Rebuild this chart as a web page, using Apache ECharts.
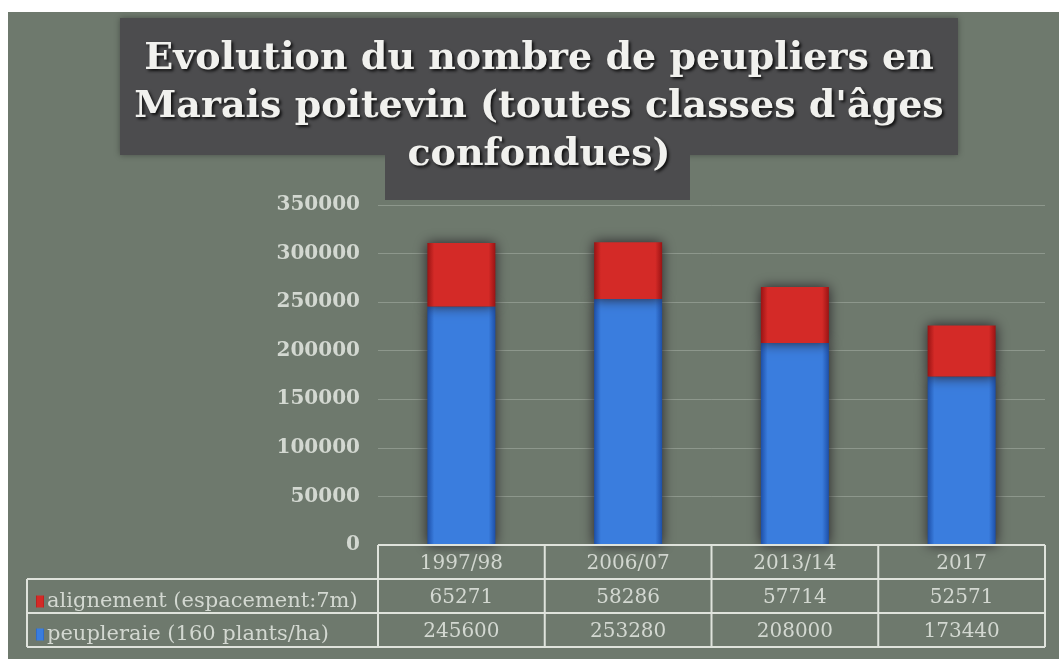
<!DOCTYPE html>
<html>
<head>
<meta charset="utf-8">
<script src="https://cdn.jsdelivr.net/npm/echarts@6/dist/echarts.min.js"></script>
<style>
  html, body { margin: 0; padding: 0; background: #ffffff; }
  #chart { position: absolute; left: 8px; top: 12px; width: 1051px; height: 647px; }
</style>
</head>
<body>
<div id="chart"></div>
<script>
var years = ['1997/98', '2006/07', '2013/14', '2017'];
var alignement = [65271, 58286, 57714, 52571];
var peupleraie = [245600, 253280, 208000, 173440];
var seriesNames = ['alignement (espacement:7m)', 'peupleraie (160 plants/ha)'];
var titleLines = ['Evolution du nombre de peupliers en', "Marais poitevin (toutes classes d'âges", 'confondues)'];

var W = 1051, H = 647;
var gridLeft = 370, gridRight = 14, gridTop = 193, gridBottom = 114;
var rowH = 34;
var textColor = '#d3d8d1';
var lineColor = '#dfe3dc';
var serif = '"DejaVu Serif", "Liberation Serif", serif';

var chart = echarts.init(document.getElementById('chart'));

var x0 = gridLeft, x1 = W - gridRight, y0 = H - gridBottom;
var colW = (x1 - x0) / years.length;
var tableLeft = 19;

// table grid lines
var lines = [];
function seg(ax, ay, bx, by) {
    lines.push({
        type: 'line', z: 5,
        shape: { x1: ax, y1: ay, x2: bx, y2: by },
        style: { stroke: lineColor, lineWidth: 2 }
    });
}
seg(x0, y0, x1, y0);
seg(tableLeft, y0 + rowH, x1, y0 + rowH);
seg(tableLeft, y0 + rowH * 2, x1, y0 + rowH * 2);
seg(tableLeft, y0 + rowH * 3, x1, y0 + rowH * 3);
seg(tableLeft, y0 + rowH, tableLeft, y0 + rowH * 3);
for (var i = 0; i <= years.length; i++) {
    seg(x0 + colW * i, y0, x0 + colW * i, y0 + rowH * 3);
}

var titleGraphics = [
    { type: 'rect', z: 1, shape: { x: 112, y: 6, width: 838, height: 137 },
      style: { fill: '#4c4c4e', shadowBlur: 6, shadowColor: 'rgba(0,0,0,0.35)' } },
    { type: 'rect', z: 1, shape: { x: 377, y: 140, width: 305, height: 48 },
      style: { fill: '#4c4c4e' } }
];
titleLines.forEach(function (t, k) {
    titleGraphics.push({
        type: 'text', z: 2,
        x: 531, y: 47 + k * 48,
        style: {
            text: t, fill: '#f1f1ee',
            font: 'bold 38px ' + serif,
            align: 'center', verticalAlign: 'middle',
            textShadowColor: 'rgba(0,0,0,0.8)', textShadowBlur: 3,
            textShadowOffsetX: 2, textShadowOffsetY: 2
        }
    });
});

function barStyle(dark, mid) {
    return {
        color: {
            type: 'linear', x: 0, y: 0, x2: 1, y2: 0,
            colorStops: [
                { offset: 0, color: dark },
                { offset: 0.1, color: mid },
                { offset: 0.9, color: mid },
                { offset: 1, color: dark }
            ]
        },
        shadowColor: 'rgba(35,30,35,0.95)',
        shadowBlur: 12
    };
}

chart.setOption({
    backgroundColor: '#6e796d',
    animation: false,
    grid: { left: gridLeft, right: gridRight, top: gridTop, bottom: gridBottom },
    legend: {
        orient: 'vertical',
        left: tableLeft + 4, top: y0 + rowH + 7,
        itemWidth: 8, itemHeight: 12, itemGap: 12,
        icon: 'rect',
        textStyle: { color: textColor, fontFamily: serif, fontSize: 21, padding: [0, 0, 0, -2] },
        data: seriesNames
    },
    xAxis: {
        type: 'category',
        data: years,
        axisLine: { show: false },
        axisTick: { show: false },
        axisLabel: {
            margin: 2,
            interval: 0,
            formatter: function (v, idx) {
                return '{h|' + v + '}\n{v|' + alignement[idx] + '}\n{v|' + peupleraie[idx] + '}';
            },
            rich: {
                h: { color: textColor, fontFamily: serif, fontSize: 20, lineHeight: rowH },
                v: { color: textColor, fontFamily: serif, fontSize: 20, lineHeight: rowH }
            }
        }
    },
    yAxis: {
        type: 'value',
        min: 0, max: 350000, interval: 50000,
        axisLine: { show: false },
        axisTick: { show: false },
        axisLabel: {
            color: textColor, fontFamily: serif, fontWeight: 'bold', fontSize: 20, margin: 18,
            formatter: function (v) { return String(v); }
        },
        splitLine: { lineStyle: { color: 'rgba(215,222,212,0.3)', width: 1 } }
    },
    graphic: titleGraphics.concat(lines),
    series: [
        {
            name: seriesNames[1], type: 'bar', stack: 'total', barWidth: 68,
            data: peupleraie,
            itemStyle: barStyle('#1d4fa8', '#3a7dde')
        },
        {
            name: seriesNames[0], type: 'bar', stack: 'total', barWidth: 68,
            data: alignement,
            itemStyle: barStyle('#9a1414', '#d42a27')
        }
    ]
});
</script>
</body>
</html>
